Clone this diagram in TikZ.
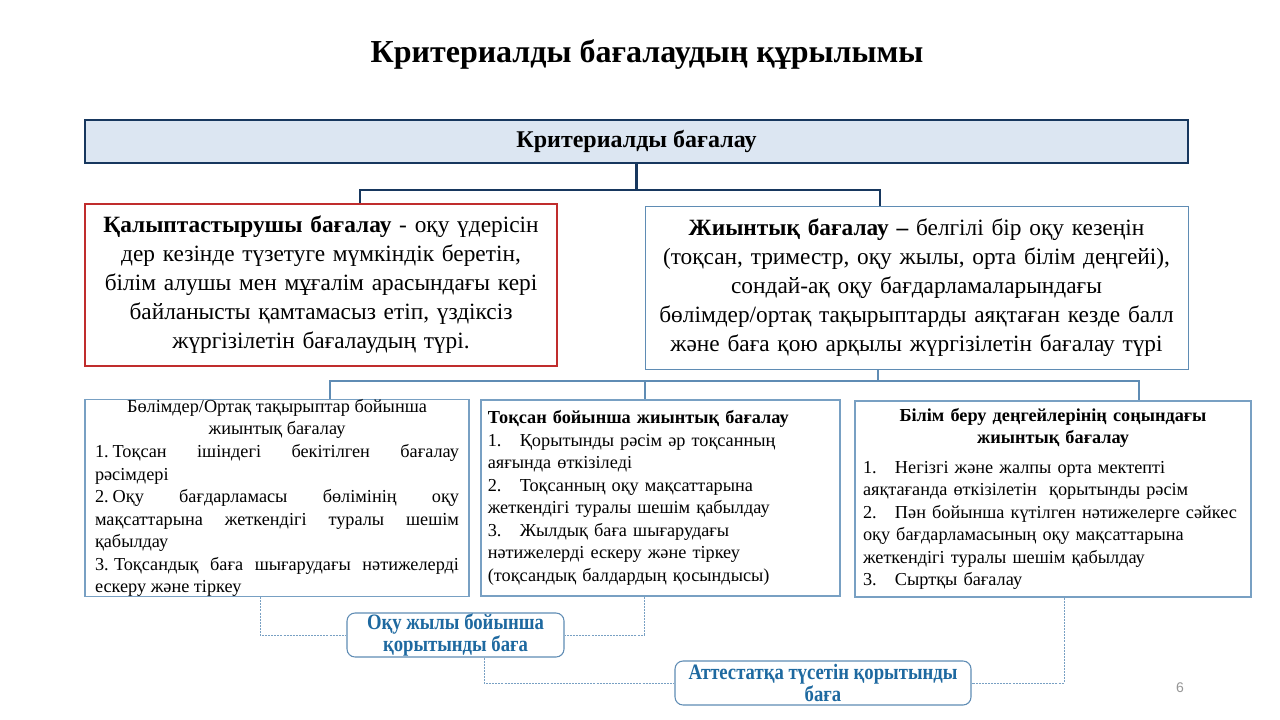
\documentclass[tikz,border=0pt]{standalone}
\usepackage{fontspec}
\setmainfont{Liberation Serif}
\newfontfamily\pnfont{Liberation Sans}
\newfontfamily\narrowserif[FakeStretch=0.85]{Liberation Serif}
\definecolor{navy}{RGB}{23,55,94}
\definecolor{topfill}{RGB}{220,230,242}
\definecolor{redline}{RGB}{192,45,45}
\definecolor{steel}{RGB}{95,140,180}
\definecolor{lightsteel}{RGB}{120,160,195}
\definecolor{ovaltext}{RGB}{30,105,160}
\definecolor{pagegray}{RGB}{150,150,150}
\tikzset{
  bigbox/.style={draw, line width=0.9pt, inner sep=0pt, align=center,
    font=\fontsize{17.5}{21.75}\selectfont},
  smallbox/.style={draw=lightsteel, line width=0.8pt, inner sep=0pt,
    font=\fontsize{13.7}{16.9}\selectfont},
  ovalbox/.style={draw=steel, line width=0.8pt, rounded corners=6pt, fill=white,
    align=center, text=ovaltext, inner sep=0pt,
    font=\narrowserif\bfseries\fontsize{16.5}{16.5}\selectfont},
  navyline/.style={draw=navy, line width=1.6pt},
  steelline/.style={draw=steel, line width=1.6pt},
  dashline/.style={draw=lightsteel, line width=0.7pt, dash pattern=on 1.5pt off 0.8pt},
}
\begin{document}
\begin{tikzpicture}[x=0.75pt,y=-0.75pt]
\fill[white] (0,0) rectangle (1280,720);
\useasboundingbox (0,0) rectangle (1280,720);

\node[font=\fontsize{24}{28}\selectfont\bfseries] (title) at (647,55) {Критериалды бағалаудың құрылымы};

\node[draw=navy, fill=topfill, line width=0.9pt, minimum width=827.25pt, minimum height=32.25pt,
  font=\fontsize{18}{21}\selectfont\bfseries] (top) at (636.5,141.5) {Критериалды бағалау};

\node[bigbox, draw=redline, minimum width=354pt, minimum height=121.5pt, text width=345pt] (left) at (321,285)
 {\textbf{Қалыптастырушы бағалау} - оқу үдерісін\\ дер кезінде түзетуге мүмкіндік беретін,\\ білім алушы мен мұғалім арасындағы кері\\ байланысты қамтамасыз етіп, үздіксіз\\ жүргізілетін бағалаудың түрі.};

\node[bigbox, draw=steel, line width=0.7pt, minimum width=407.25pt, minimum height=122.25pt, text width=400pt] (right) at (916.5,287.5)
 {\textbf{Жиынтық бағалау –} белгілі бір оқу кезеңін\\ (тоқсан, триместр, оқу жылы, орта білім деңгейі),\\ сондай-ақ оқу бағдарламаларындағы\\ бөлімдер/ортақ тақырыптарды аяқтаған кезде балл\\ және баға қою арқылы жүргізілетін бағалау түрі};

\node[smallbox, minimum width=288pt, minimum height=147pt, text width=273pt, align=justify] (b1) at (277,498)
 {\parindent=0pt{\centering Бөлімдер/Ортақ тақырыптар бойынша\par жиынтық бағалау\par}
 1.\kern3pt Тоқсан ішіндегі бекітілген бағалау\linebreak рәсімдері\par
 2.\kern3pt Оқу бағдарламасы бөлімінің оқу\linebreak мақсаттарына жеткендігі туралы шешім\linebreak қабылдау\par
 3.\kern4pt Тоқсандық баға шығарудағы нәтижелерді\linebreak ескеру және тіркеу\par};

\node[smallbox, minimum width=269.25pt, minimum height=147pt, text width=259pt, align=left] (b2) at (660.5,498)
 {\textbf{Тоқсан бойынша жиынтық бағалау}\\
 1.\hspace{1em}Қорытынды рәсім әр тоқсанның\\
 аяғында өткізіледі\\
 2.\hspace{1em}Тоқсанның оқу мақсаттарына\\
 жеткендігі туралы шешім қабылдау\\
 3.\hspace{1em}Жылдық баға шығарудағы\\
 нәтижелерді ескеру және тіркеу\\
 (тоқсандық балдардың қосындысы)};

\node[smallbox, minimum width=297pt, minimum height=147pt, text width=285pt, align=left] (b3) at (1053,499)
 {\parindent=0pt{\centering\bfseries Білім беру деңгейлерінің соңындағы\par жиынтық бағалау\par}
 \vspace{5pt}
 1.\hspace{1em}Негізгі және жалпы орта мектепті\\
 аяқтағанда өткізілетін\ \ қорытынды рәсім\\
 2.\hspace{1em}Пән бойынша күтілген нәтижелерге сәйкес\\
 оқу бағдарламасының оқу мақсаттарына\\
 жеткендігі туралы шешім қабылдау\\
 3.\hspace{1em}Сыртқы бағалау};

\node[ovalbox, minimum width=162.75pt, minimum height=33pt] (o1) at (455.5,635) {Оқу жылы бойынша\\ қорытынды баға};
\node[ovalbox, minimum width=222pt, minimum height=33pt] (o2) at (823,683) {Аттестатқа түсетін қорытынды\\ баға};

\node[font=\pnfont\fontsize{10.5}{12}\selectfont, text=pagegray] (pnum) at (1180,688) {6};

% top connectors
\coordinate (lj) at (360,190);
\coordinate (rj) at (880,190);
\draw[navyline] (top.south) -- (top.south |- lj);
\draw[navyline] (lj |- left.north) -- (lj) -- (rj) -- (rj |- right.north);

% lower connectors
\coordinate (bj) at (878,381);
\coordinate (c1) at (330,381);
\coordinate (c2) at (645,381);
\coordinate (c3) at (1139,381);
\draw[steelline] (bj |- right.south) -- (bj);
\draw[steelline] (c1 |- b1.north) -- (c1) -- (c3) -- (c3 |- b3.north);
\draw[steelline] (c2) -- (c2 |- b2.north);

% dashed connectors
\coordinate (d1) at (260,635);
\coordinate (d2) at (644,635);
\coordinate (d3) at (484,683);
\coordinate (d4) at (1064,683);
\draw[dashline] (d1 |- b1.south) -- (d1) -- (o1.west);
\draw[dashline] (d2 |- b2.south) -- (d2) -- (o1.east);
\draw[dashline] (d3 |- o1.south) -- (d3) -- (o2.west);
\draw[dashline] (d4 |- b3.south) -- (d4) -- (o2.east);
\end{tikzpicture}
\end{document}
